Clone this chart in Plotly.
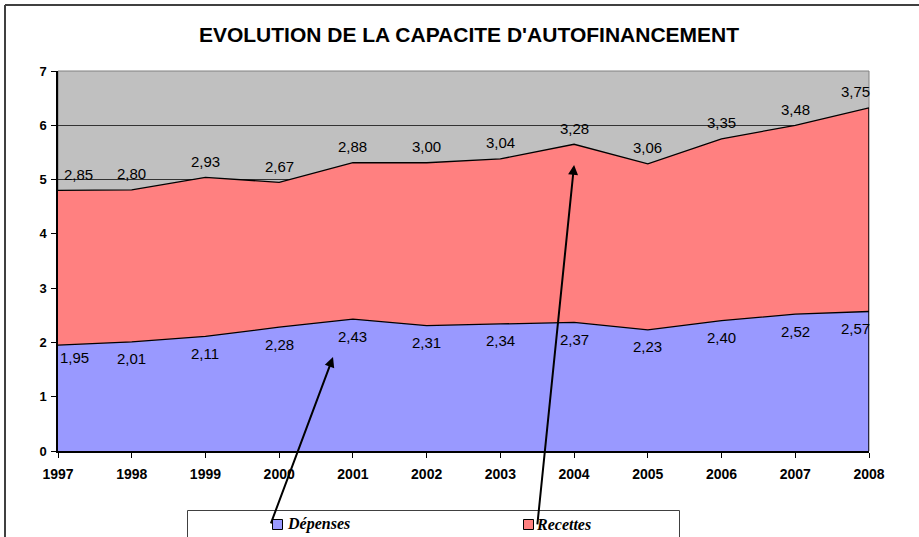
import plotly.graph_objects as go

years = [1997, 1998, 1999, 2000, 2001, 2002, 2003, 2004, 2005, 2006, 2007, 2008]
depenses = [1.95, 2.01, 2.11, 2.28, 2.43, 2.31, 2.34, 2.37, 2.23, 2.40, 2.52, 2.57]
recettes = [2.85, 2.80, 2.93, 2.67, 2.88, 3.00, 3.04, 3.28, 3.06, 3.35, 3.48, 3.75]
series_names = ["Dépenses", "Recettes"]
title_text = "EVOLUTION DE LA CAPACITE D'AUTOFINANCEMENT"

BLUE = "#9999FF"
RED = "#FF8080"
GRAY = "#C0C0C0"

def fr(v):
    return f"{v:.2f}".replace(".", ",")

fig = go.Figure()
fig.add_trace(go.Scatter(x=years, y=depenses, name=series_names[0], stackgroup="one",
                         mode="lines", line=dict(color="black", width=1.3),
                         fillcolor=BLUE, hoverinfo="skip"))
fig.add_trace(go.Scatter(x=years, y=recettes, name=series_names[1], stackgroup="one",
                         mode="lines", line=dict(color="black", width=1.3),
                         fillcolor=RED, hoverinfo="skip"))

totals = [d + r for d, r in zip(depenses, recettes)]
n = len(years)
annotations = []
label_font = dict(family="Liberation Sans, Arial", size=15, color="black")
for i, (yr, d, r, t) in enumerate(zip(years, depenses, recettes, totals)):
    xs = 0
    if i == 0:
        xs = 16
    elif i == n - 1:
        xs = -14
    annotations.append(dict(x=yr, y=d, xref="x", yref="y", text=fr(d), showarrow=False,
                            yshift=-17 if i else -12, xshift=xs, font=label_font))
    annotations.append(dict(x=yr, y=t, xref="x", yref="y", text=fr(r), showarrow=False,
                            yshift=16, xshift=xs + (4 if i == 0 else 0), font=label_font))

# arrows from legend to the series
annotations.append(dict(x=2000.73, y=1.73, ax=1999.88, ay=-1.36, xref="x", yref="y",
                        axref="x", ayref="y", text="", showarrow=True, arrowhead=2,
                        arrowsize=1, arrowwidth=2, arrowcolor="black"))
annotations.append(dict(x=2004.0, y=5.27, ax=2003.5, ay=-1.38, xref="x", yref="y",
                        axref="x", ayref="y", text="", showarrow=True, arrowhead=2,
                        arrowsize=1, arrowwidth=2, arrowcolor="black"))

# manual legend
L, R, T, B = 58, 869, 71, 451
W, H = 919, 537
def px_x(p):
    return (p - L) / (R - L)
def px_y(p):
    return (B - p) / (B - T)

leg_font = dict(family="Liberation Serif, Times New Roman", size=16, color="black")
annotations.append(dict(x=px_x(285), y=px_y(524), xref="paper", yref="paper",
                        text=f"<b><i>{series_names[0]}</i></b>", showarrow=False,
                        xanchor="left", yanchor="middle", font=leg_font))
annotations.append(dict(x=px_x(534), y=px_y(524), xref="paper", yref="paper",
                        text=f"<b><i>{series_names[1]}</i></b>", showarrow=False,
                        xanchor="left", yanchor="middle", font=leg_font))

shapes = [
    # plot-area border
    dict(type="rect", xref="paper", yref="paper", x0=0, x1=1, y0=0, y1=1,
         line=dict(color="#808080", width=1), layer="below"),
    # right edge of series area
    dict(type="line", xref="x", yref="y", x0=years[-1], x1=years[-1], y0=0, y1=totals[-1],
         line=dict(color="black", width=1.5)),
    # legend box
    dict(type="rect", xref="paper", yref="paper", x0=px_x(187.5), x1=px_x(679.5),
         y0=px_y(545), y1=px_y(510.5), line=dict(color="#404040", width=1),
         fillcolor="white", layer="below"),
    dict(type="rect", xref="paper", yref="paper", x0=px_x(272.5), x1=px_x(282.5),
         y0=px_y(529.5), y1=px_y(519.5), line=dict(color="black", width=1), fillcolor=BLUE),
    dict(type="rect", xref="paper", yref="paper", x0=px_x(523.5), x1=px_x(533.5),
         y0=px_y(529.5), y1=px_y(519.5), line=dict(color="black", width=1), fillcolor=RED),
    # outer frame
    dict(type="line", xref="paper", yref="paper", x0=px_x(5), x1=px_x(925),
         y0=px_y(5), y1=px_y(5), line=dict(color="#404040", width=2)),
    dict(type="line", xref="paper", yref="paper", x0=px_x(5), x1=px_x(5),
         y0=px_y(5), y1=px_y(545), line=dict(color="#404040", width=2)),
]

fig.update_layout(
    width=W, height=H,
    margin=dict(l=L, r=W - R, t=T, b=H - B, pad=0),
    paper_bgcolor="white",
    plot_bgcolor=GRAY,
    showlegend=False,
    title=dict(text=f"<b>{title_text}</b>", x=469 / W, y=1 - 35 / H, xref="container",
               yref="container", xanchor="center", yanchor="middle",
               font=dict(family="Liberation Sans, Arial", size=21, color="black")),
    annotations=annotations,
    shapes=shapes,
)
fig.update_xaxes(range=[years[0], years[-1]], tickmode="array", tickvals=years,
                 ticktext=[f"<b>{y}</b>" for y in years],
                 showgrid=False, zeroline=False, showline=True, linecolor="black",
                 linewidth=2, ticks="outside", ticklen=5, tickcolor="black",
                 ticklabelstandoff=4,
                 tickfont=dict(family="Liberation Sans, Arial", size=14, color="black"))
fig.update_yaxes(range=[0, 7], tickmode="array", tickvals=list(range(0, 8)),
                 ticktext=[f"<b>{v}</b>" for v in range(0, 8)],
                 showgrid=True, gridcolor="#333333", gridwidth=1, zeroline=False,
                 showline=True, linecolor="black", linewidth=1.5, ticks="outside",
                 ticklen=5, tickcolor="black", ticklabelstandoff=2,
                 tickfont=dict(family="Liberation Sans, Arial", size=13, color="black"))

fig.write_html("out.html", config={"displayModeBar": False},
               post_script="document.body.style.margin='0';document.body.style.overflow='hidden';")
